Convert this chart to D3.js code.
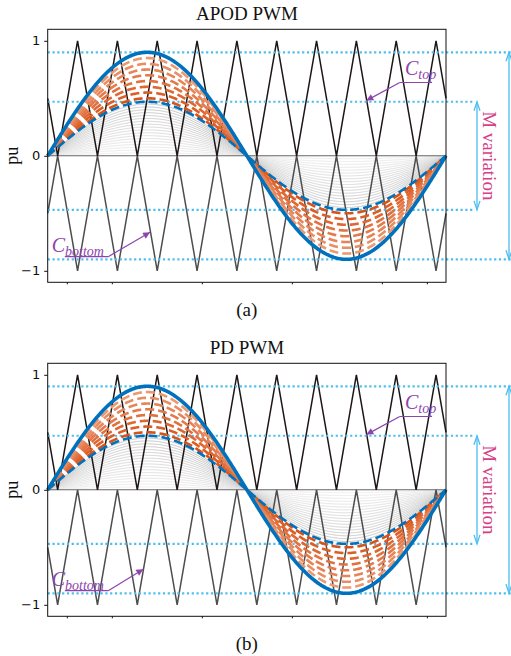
<!DOCTYPE html>
<html>
<head>
<meta charset="utf-8">
<script src="https://cdn.jsdelivr.net/npm/d3@7"></script>
<style>
  body { margin: 0; background: #fff; }
  svg { display: block; }
</style>
</head>
<body>
<script>
// one fundamental period on x (0..1), values in pu
const xMajorTicks = [0.274, 0.5, 0.726];
const xMinorTicks = [0.048, 0.161, 0.387, 0.613, 0.839, 0.952];
const yTicks = [-1, 0, 1];

// modulation indices
const grayM = [0.025, 0.05, 0.075, 0.10, 0.125, 0.15, 0.175, 0.20, 0.225,
  0.25, 0.275, 0.30, 0.325, 0.35, 0.375, 0.40, 0.425, 0.45];
const orangeM = [0.50, 0.55, 0.60, 0.65, 0.70, 0.75, 0.80, 0.85];
const blueDashedM = 0.47;
const blueSolidM = 0.9;
const bandM = [0.47, 0.9];

// carrier vertices (10 carrier cycles per period)
const carrierT = [0, 0.025, 0.075, 0.125, 0.175, 0.225, 0.275, 0.325, 0.375, 0.425, 0.475,
  0.525, 0.575, 0.625, 0.675, 0.725, 0.775, 0.825, 0.875, 0.925, 0.975, 1];
const carrierTop = [0.5, 0, 1, 0, 1, 0, 1, 0, 1, 0, 1, 0, 1, 0, 1, 0, 1, 0, 1, 0, 1, 0.5];
const carrierBottomAPOD = carrierTop.map(v => -v);
const carrierBottomPD = carrierTop.map(v => v - 1);

const panels = [
  { title: 'APOD PWM', label: '(a)', bottom: carrierBottomAPOD, tipBottom: [0.257, -0.665] },
  { title: 'PD PWM', label: '(b)', bottom: carrierBottomPD, tipBottom: [0.24, -0.69] },
];

const W = 511, H = 656;
const panelShift = 334;
const serif = '"Liberation Serif", "Times New Roman", serif';
const sans = '"DejaVu Sans", sans-serif';
const cyan = '#4dbeee';
const purple = '#8e44ad';

const svg = d3.select('body').append('svg')
  .attr('width', W)
  .attr('height', H);

const defs = svg.append('defs');
defs.append('marker')
  .attr('id', 'headPurple')
  .attr('viewBox', '0 0 10 10')
  .attr('refX', 10).attr('refY', 5)
  .attr('markerWidth', 10).attr('markerHeight', 7)
  .attr('markerUnits', 'userSpaceOnUse')
  .attr('orient', 'auto')
  .append('path')
  .attr('d', 'M0,0 L10,5 L0,10 Z')
  .attr('fill', purple);

const x = d3.scaleLinear().domain([0, 1]).range([47.7, 446]);
const y = d3.scaleLinear().domain([-1.1, 1.1]).range([282.3, 29.3]);

const ts = d3.range(0, 1.0001, 0.0025);
const sineLine = m => d3.line()
  .x(t => x(t))
  .y(t => y(m * Math.sin(2 * Math.PI * t)))(ts);
const carrierLine = vals => d3.line()
  .x((d, i) => x(carrierT[i]))
  .y(d => y(d))(vals);

function vArrow(g, xp, y0, y1) {
  g.append('line')
    .attr('x1', xp).attr('x2', xp)
    .attr('y1', y0).attr('y2', y1)
    .attr('stroke', cyan).attr('stroke-width', 1.3);
  [[y0, 1], [y1, -1]].forEach(([yy, s]) => {
    g.append('path')
      .attr('d', `M${xp - 3},${yy + s * 9}L${xp},${yy}L${xp + 3},${yy + s * 9}`)
      .attr('fill', 'none')
      .attr('stroke', cyan).attr('stroke-width', 1.3);
  });
}

function annotate(g, txt, sub, tx, ty, u0, u1, uy, fromLeft, tip) {
  const t = g.append('text')
    .attr('x', x(tx)).attr('y', y(ty))
    .attr('fill', purple)
    .attr('font-family', serif)
    .attr('font-style', 'italic');
  t.append('tspan').attr('font-size', 20).text(txt);
  t.append('tspan').attr('font-size', 14).attr('dy', 4).text(sub);
  g.append('line')
    .attr('x1', x(u0)).attr('x2', x(u1))
    .attr('y1', y(uy)).attr('y2', y(uy))
    .attr('stroke', purple).attr('stroke-width', 1.1);
  g.append('line')
    .attr('x1', x(fromLeft ? u0 : u1)).attr('y1', y(uy))
    .attr('x2', x(tip[0])).attr('y2', y(tip[1]))
    .attr('stroke', purple).attr('stroke-width', 1.2)
    .attr('marker-end', 'url(#headPurple)');
}

panels.forEach((p, k) => {
  const g = svg.append('g').attr('transform', `translate(0,${k * panelShift})`);

  // title
  g.append('text')
    .attr('x', (x(0) + x(1)) / 2).attr('y', 20)
    .attr('text-anchor', 'middle')
    .attr('font-family', serif).attr('font-size', 19)
    .attr('fill', '#111')
    .text(p.title);

  // gray references
  const grayCol = d3.scaleLinear().domain([0, 0.45]).range(['#f0f0f0', '#c4c4c4']);
  g.selectAll('path.gray')
    .data(grayM)
    .enter().append('path')
    .attr('class', 'gray')
    .attr('d', sineLine)
    .attr('fill', 'none')
    .attr('stroke', d => grayCol(d))
    .attr('stroke-width', 1);

  // zero line
  g.append('line')
    .attr('x1', x(0)).attr('x2', x(1))
    .attr('y1', y(0)).attr('y2', y(0))
    .attr('stroke', '#666').attr('stroke-width', 1.1);

  // carriers
  g.append('path')
    .attr('d', carrierLine(p.bottom))
    .attr('fill', 'none')
    .attr('stroke', '#4d4d4d').attr('stroke-width', 1.5);
  g.append('path')
    .attr('d', carrierLine(carrierTop))
    .attr('fill', 'none')
    .attr('stroke', '#1e1616').attr('stroke-width', 1.5);

  // M band dotted lines
  [[bandM[1], W], [bandM[0], 475], [-bandM[0], 475], [-bandM[1], W]].forEach(([v, xe]) => {
    g.append('line')
      .attr('x1', x(0)).attr('x2', xe)
      .attr('y1', y(v)).attr('y2', y(v))
      .attr('stroke', cyan).attr('stroke-width', 2.2)
      .attr('stroke-dasharray', '2.2,2.6');
  });

  // orange references
  const orangeCol = d3.scaleLinear().domain([0.5, 0.85]).range(['#d95319', '#ec9870']);
  g.selectAll('path.orange')
    .data(orangeM)
    .enter().append('path')
    .attr('class', 'orange')
    .attr('d', sineLine)
    .attr('fill', 'none')
    .attr('stroke', d => orangeCol(d))
    .attr('stroke-width', 2.6)
    .attr('stroke-dasharray', '9,4');

  // blue limits
  g.append('path')
    .attr('d', sineLine(blueDashedM))
    .attr('fill', 'none')
    .attr('stroke', '#0072bd').attr('stroke-width', 2.6)
    .attr('stroke-dasharray', '9,4');
  g.append('path')
    .attr('d', sineLine(blueSolidM))
    .attr('fill', 'none')
    .attr('stroke', '#0072bd').attr('stroke-width', 3.6);

  // axes frame
  g.append('rect')
    .attr('x', x(0)).attr('y', y(1.1))
    .attr('width', x(1) - x(0)).attr('height', y(-1.1) - y(1.1))
    .attr('fill', 'none')
    .attr('stroke', '#111').attr('stroke-width', 1);

  // y axis
  const yAxis = d3.axisLeft(y).tickValues(yTicks).tickSize(3.5).tickPadding(4)
    .tickFormat(d => d < 0 ? '\u2212' + Math.abs(d) : d);
  const ya = g.append('g').attr('transform', `translate(${x(0)},0)`).call(yAxis);
  ya.select('.domain').remove();
  ya.selectAll('text').attr('font-family', sans).attr('font-size', 13).attr('fill', '#111');
  ya.selectAll('line').attr('stroke', '#111');

  // x axis (no labels)
  const xa = g.append('g').attr('transform', `translate(0,${y(-1.1)})`);
  xa.call(d3.axisBottom(x).tickValues(xMajorTicks).tickSize(3.5).tickFormat(''));
  xa.call(d3.axisBottom(x).tickValues(xMinorTicks).tickSize(2).tickFormat(''));
  xa.selectAll('.domain').remove();
  xa.selectAll('line').attr('stroke', '#111');

  g.append('text')
    .attr('transform', `translate(18,${y(0)}) rotate(-90)`)
    .attr('text-anchor', 'middle')
    .attr('font-family', serif).attr('font-size', 18)
    .attr('fill', '#111')
    .text('pu');

  // M variation arrows
  vArrow(g, 477, y(bandM[0]), y(-bandM[0]));
  vArrow(g, 509, y(bandM[1]), y(-bandM[1]));
  g.append('text')
    .attr('transform', `translate(483,${y(0)}) rotate(90)`)
    .attr('text-anchor', 'middle')
    .attr('font-family', serif).attr('font-size', 19)
    .attr('fill', '#d63f88')
    .text('M variation');

  // carrier annotations
  annotate(g, 'C', 'top', 0.897, 0.703, 0.884, 0.965, 0.637, true, [0.80, 0.48]);
  annotate(g, 'C', 'bottom', 0.01, -0.834, 0.043, 0.152, -0.877, false, p.tipBottom);

  // sub-figure label
  g.append('text')
    .attr('x', (x(0) + x(1)) / 2).attr('y', 316)
    .attr('text-anchor', 'middle')
    .attr('font-family', serif).attr('font-size', 19)
    .attr('fill', '#111')
    .text(p.label);
});
</script>
</body>
</html>
